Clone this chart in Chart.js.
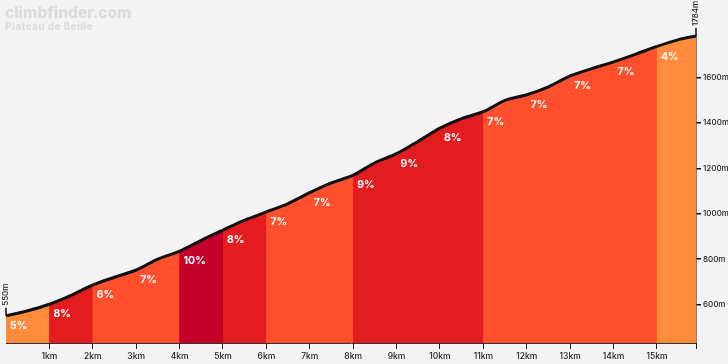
<!DOCTYPE html>
<html>
<head>
<meta charset="utf-8">
<title>Plateau de Beille</title>
<script src="https://cdn.jsdelivr.net/npm/chart.js@4.4.1/dist/chart.umd.min.js"></script>
<style>
  html, body { margin: 0; padding: 0; background: #f3f3f3; }
  #wrap { width: 728px; height: 364px; }
</style>
</head>
<body>
<div id="wrap"><canvas id="profile" width="728" height="364"></canvas></div>
<script>
// profile (km, metres)
const distanceKm = [0, 0.5, 1, 1.5, 2, 2.5, 3, 3.5, 4, 4.5, 5, 5.5, 6, 6.5, 7, 7.5, 8, 8.5, 9, 9.5, 10, 10.5, 11, 11.5, 12, 12.5, 13, 13.5, 14, 14.5, 15, 15.5, 15.9];
const elevationM = [550, 572, 601, 640, 686, 720, 752, 800, 835, 883, 928, 972, 1008, 1045, 1093, 1136, 1170, 1225, 1265, 1320, 1378, 1420, 1450, 1500, 1525, 1560, 1608, 1640, 1670, 1703, 1738, 1768, 1784];

// one label per km section
const sectionStartKm = [0, 1, 2, 3, 4, 5, 6, 7, 8, 9, 10, 11, 12, 13, 14, 15];
const sectionGradient = [5, 8, 6, 7, 10, 8, 7, 7, 9, 9, 8, 7, 7, 7, 7, 4];

const kmTicks = [1, 2, 3, 4, 5, 6, 7, 8, 9, 10, 11, 12, 13, 14, 15];
const heightTicks = [600, 800, 1000, 1200, 1400, 1600];

const siteName = 'climbfinder.com';
const climbName = 'Plateau de Beille';

const endKm = distanceKm[distanceKm.length - 1];
const startHeight = elevationM[0];
const topHeight = elevationM[elevationM.length - 1];

function gradientColor(g) {
  if (g >= 10) return '#c2002a';
  if (g >= 8) return '#e31c1f';
  if (g >= 6) return '#ff4f2d';
  return '#ff8c3c';
}

function sectionIndex(km) {
  let idx = 0;
  for (let i = 0; i < sectionStartKm.length; i++) {
    if (km >= sectionStartKm[i] - 1e-9) idx = i;
  }
  return idx;
}

const points = distanceKm.map((d, i) => ({ x: d, y: elevationM[i] }));

// header text, gradient labels and start / finish heights
const decorations = {
  id: 'decorations',
  afterDatasetsDraw(chart) {
    const ctx = chart.ctx;
    const xs = chart.scales.x, ys = chart.scales.y;
    ctx.save();

    // section gradients
    ctx.fillStyle = '#ffffff';
    ctx.font = 'bold 10.5px Inter, "Open Sans", sans-serif';
    ctx.textAlign = 'left';
    ctx.textBaseline = 'middle';
    sectionStartKm.forEach((km, i) => {
      const j = distanceKm.indexOf(km);
      const px = xs.getPixelForValue(km);
      const py = ys.getPixelForValue(elevationM[j]);
      ctx.fillText(sectionGradient[i] + '%', px + 4, py + 10);
    });

    // start and finish markers
    ctx.strokeStyle = '#111';
    ctx.lineWidth = 1.5;
    ctx.fillStyle = '#222';
    ctx.font = '500 8px Inter, "Open Sans", sans-serif';
    [[0, startHeight], [endKm, topHeight]].forEach(([km, h]) => {
      const px = xs.getPixelForValue(km);
      const py = ys.getPixelForValue(h);
      ctx.beginPath();
      ctx.moveTo(px, py);
      ctx.lineTo(px, py - 8);
      ctx.stroke();
      ctx.save();
      ctx.translate(px, py - 10);
      ctx.rotate(-Math.PI / 2);
      ctx.textAlign = 'left';
      ctx.textBaseline = 'middle';
      ctx.fillText(h + 'm', 0, 0);
      ctx.restore();
    });

    // header
    ctx.textAlign = 'left';
    ctx.textBaseline = 'alphabetic';
    ctx.fillStyle = '#dcdcdc';
    ctx.font = '800 15.5px Inter, "Open Sans", sans-serif';
    ctx.fillText(siteName, 5, 18);
    ctx.letterSpacing = '0.4px';
    ctx.font = '800 10px Inter, "Open Sans", sans-serif';
    ctx.fillText(climbName, 5, 30);
    ctx.restore();
  }
};

new Chart(document.getElementById('profile'), {
  type: 'line',
  data: {
    datasets: [{
      // coloured area with the black profile line on top
      data: points,
      order: 0,
      borderColor: '#111',
      borderWidth: 3,
      pointRadius: 0,
      tension: 0.3,
      fill: 'start',
      clip: 6,
      segment: {
        backgroundColor: c => gradientColor(sectionGradient[sectionIndex(c.p0.parsed.x)])
      }
    }, {
      // same area underneath so the section joins show no light seams
      data: points,
      order: 1,
      borderWidth: 0,
      borderColor: 'rgba(0,0,0,0)',
      pointRadius: 0,
      tension: 0.3,
      fill: 'start',
      segment: {
        backgroundColor: c => gradientColor(sectionGradient[sectionIndex(c.p1.parsed.x)])
      }
    }]
  },
  options: {
    responsive: false,
    devicePixelRatio: 1,
    animation: false,
    layout: { padding: { top: 36, left: 6, right: 0, bottom: 0 } },
    plugins: { legend: { display: false }, tooltip: { enabled: false } },
    scales: {
      x: {
        type: 'linear',
        min: 0,
        max: endKm,
        afterBuildTicks: s => { s.ticks = kmTicks.concat([endKm]).map(v => ({ value: v })); },
        afterFit: s => { s.height = 21; },
        ticks: {
          autoSkip: false,
          maxRotation: 0,
          padding: 2,
          color: '#222',
          font: { family: 'Inter', size: 8.5, weight: '500' },
          callback: v => (v === endKm ? '' : v + 'km')
        },
        grid: { drawOnChartArea: false, drawTicks: true, tickLength: 6, color: '#222', lineWidth: 1 },
        border: { display: true, color: '#333', width: 1 }
      },
      y: {
        type: 'linear',
        position: 'right',
        min: 430,
        max: topHeight,
        afterBuildTicks: s => { s.ticks = heightTicks.map(v => ({ value: v })); },
        afterFit: s => { s.width = 32; },
        ticks: {
          padding: 2,
          color: '#222',
          font: { family: 'Inter', size: 8, weight: '500' },
          callback: v => v + 'm'
        },
        grid: { drawOnChartArea: false, drawTicks: true, tickLength: 5, color: '#111', lineWidth: 1.5 },
        border: { display: true, color: '#111', width: 1.5 }
      }
    }
  },
  plugins: [decorations]
});
</script>
</body>
</html>
